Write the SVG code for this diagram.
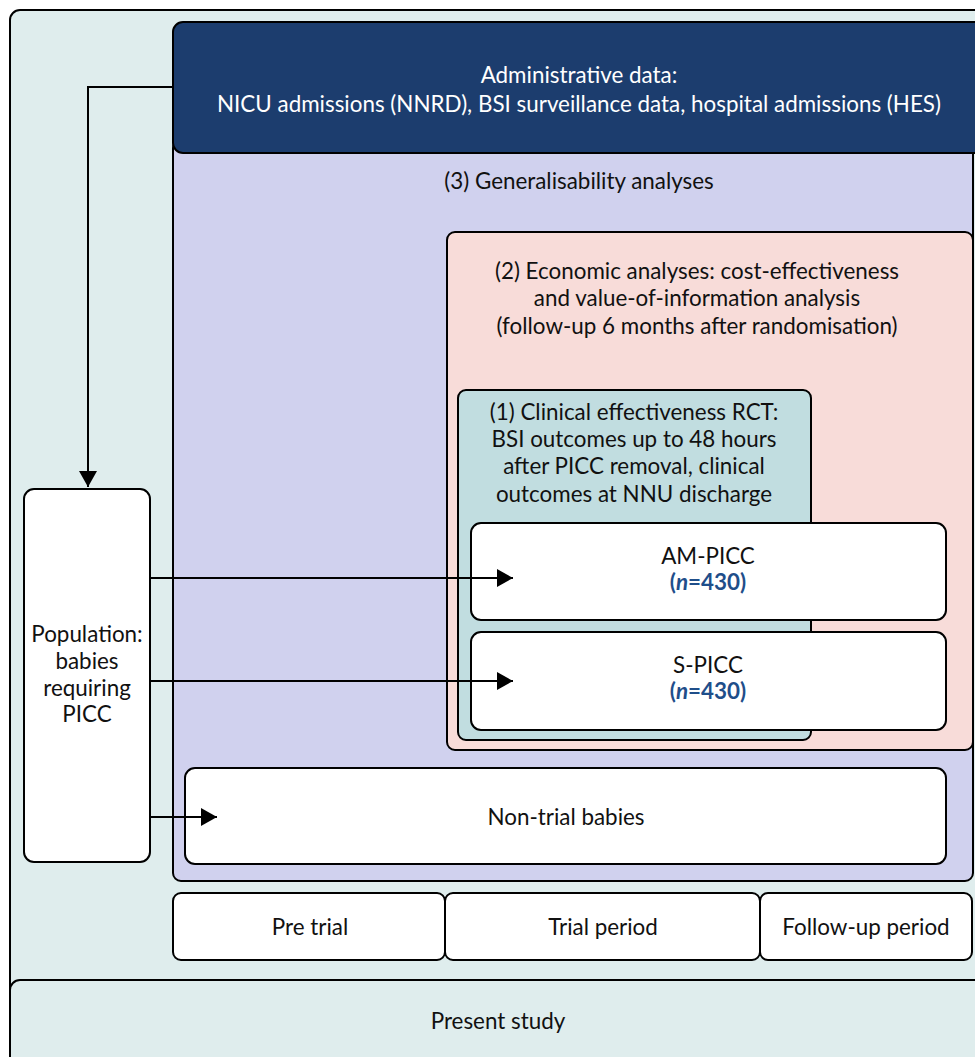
<svg xmlns="http://www.w3.org/2000/svg" width="975" height="1057" viewBox="0 0 975 1057">
<style>
.b{stroke:#000;stroke-width:2}
.t{font-family:Lato,"Liberation Sans",sans-serif;font-size:22.4px;fill:#111;text-anchor:middle}
.w{fill:#fff}
.n{fill:#1f4e8a;font-weight:bold}
.c{fill:none;stroke:#000;stroke-width:2}
</style>
<defs>
<marker id="ah" viewBox="0 0 16 18" refX="16" refY="9" markerWidth="16" markerHeight="18" markerUnits="userSpaceOnUse" orient="auto">
<path d="M0,0 L16,9 L0,18 Z" fill="#000"/>
</marker>
</defs>
<g id="outer"><rect class="b" x="10" y="10" width="990" height="1060" rx="10" fill="#dfeded"/></g>
<g id="present"><rect class="b" x="10" y="980" width="990" height="90" rx="10" fill="#dfeded"/><text class="t" x="498" y="1029">Present study</text></g>
<g id="general"><rect class="b" x="173" y="140" width="800" height="741" rx="8" fill="#d0d1ee"/><text class="t" x="579" y="189">(3) Generalisability analyses</text></g>
<g id="admin"><rect class="b" x="173" y="22" width="830" height="131" rx="10" fill="#1c3d6e"/><text class="t" x="579" y="83" style="fill:#fff">Administrative data:</text><text class="t" x="579" y="112" style="fill:#fff">NICU admissions (NNRD), BSI surveillance data, hospital admissions (HES)</text></g>
<g id="economic"><rect class="b" x="447" y="232" width="526" height="518" rx="8" fill="#f8dcd9"/><text class="t" x="697" y="279">(2) Economic analyses: cost-effectiveness</text><text class="t" x="697" y="306">and value-of-information analysis</text><text class="t" x="697" y="334">(follow-up 6 months after randomisation)</text></g>
<g id="clinical"><rect class="b" x="458" y="390" width="353" height="350" rx="8" fill="#c1dde0"/><text class="t" x="634" y="420">(1) Clinical effectiveness RCT:</text><text class="t" x="634" y="447">BSI outcomes up to 48 hours</text><text class="t" x="634" y="474">after PICC removal, clinical</text><text class="t" x="634" y="502">outcomes at NNU discharge</text></g>
<g id="ampicc"><rect class="b w" x="471" y="523" width="475" height="97" rx="10"/><text class="t" x="708" y="564">AM-PICC</text><text class="t n" x="708" y="590">(<tspan font-style="italic">n</tspan>=430)</text></g>
<g id="spicc"><rect class="b w" x="471" y="632" width="475" height="98" rx="10"/><text class="t" x="708" y="673">S-PICC</text><text class="t n" x="708" y="699">(<tspan font-style="italic">n</tspan>=430)</text></g>
<g id="population"><rect class="b w" x="24" y="489" width="126" height="373" rx="10"/><text class="t" x="87" y="642">Population:</text><text class="t" x="87" y="669">babies</text><text class="t" x="87" y="696">requiring</text><text class="t" x="87" y="722">PICC</text></g>
<g id="nontrial"><rect class="b w" x="185" y="768" width="761" height="96" rx="10"/><text class="t" x="566" y="825">Non-trial babies</text></g>
<g id="pretrial"><rect class="b w" x="173" y="893" width="272" height="67" rx="8"/><text class="t" x="310" y="935">Pre trial</text></g>
<g id="trial"><rect class="b w" x="445" y="893" width="315" height="67" rx="8"/><text class="t" x="603" y="935">Trial period</text></g>
<g id="followup"><rect class="b w" x="760" y="893" width="212" height="67" rx="8"/><text class="t" x="866" y="935">Follow-up period</text></g>
<g id="connectors">
<path class="c" d="M173,87 H88 V487" marker-end="url(#ah)"/>
<path class="c" d="M150,578 H513" marker-end="url(#ah)"/>
<path class="c" d="M150,681 H513" marker-end="url(#ah)"/>
<path class="c" d="M150,817 H217" marker-end="url(#ah)"/>
</g>
</svg>
